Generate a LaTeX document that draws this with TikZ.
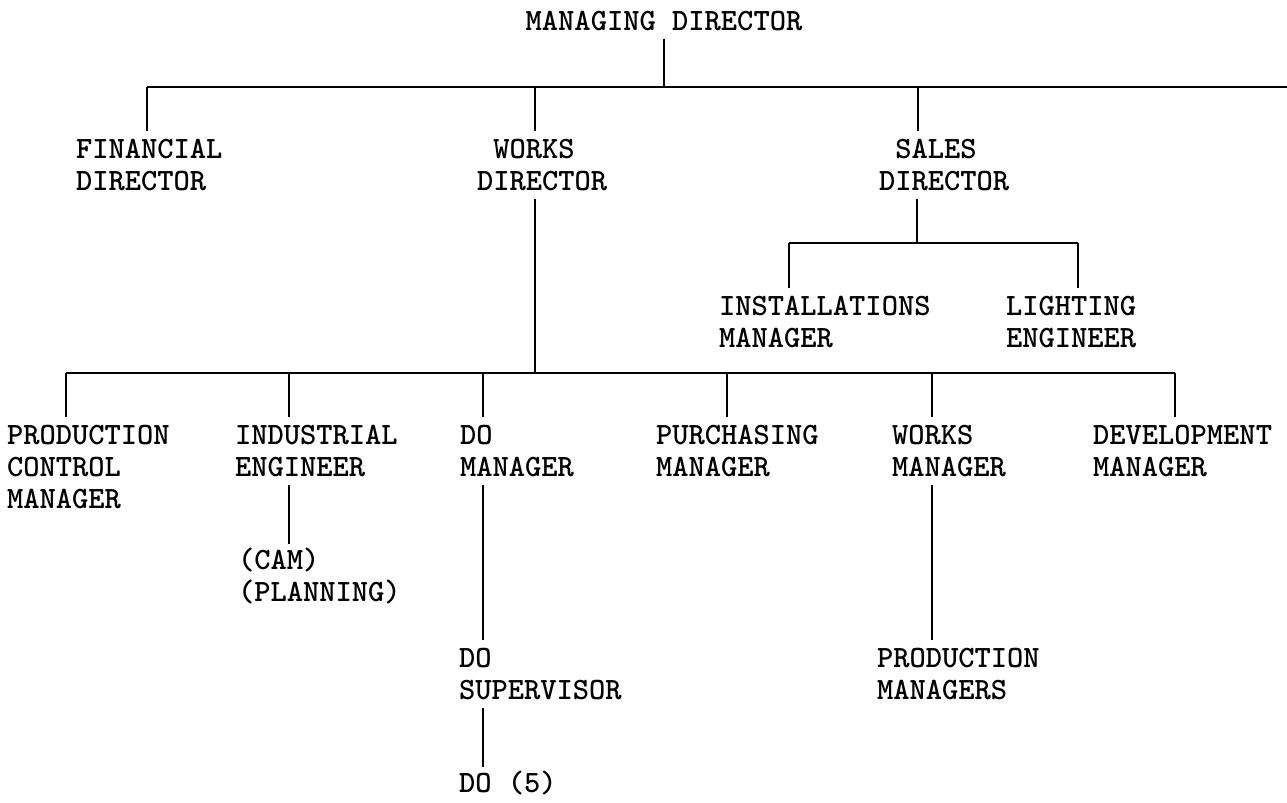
\documentclass[tikz,border=0pt]{standalone}
\begin{document}
\begin{tikzpicture}[x=0.5pt,y=-0.5pt,
  poste/.style={anchor=north west,inner sep=0pt,outer xsep=0pt,outer ysep=4pt,align=left,
    font=\ttfamily\bfseries\fontsize{15.5}{16}\selectfont},
  trait/.style={line width=1pt}]
  \useasboundingbox (0,0) rectangle (1287,803);
  % Intitulés des postes
  \node[poste,anchor=north] (md) at (664,3) {MANAGING DIRECTOR};
  \node[poste] (fin) at (76,131) {FINANCIAL\\DIRECTOR};
  \node[poste] (works) at (477,131) {\hphantom{W}WORKS\\DIRECTOR};
  \node[poste] (sales) at (879,131) {\hphantom{S}SALES\\DIRECTOR};
  \node[poste] (inst) at (719,288) {INSTALLATIONS\\MANAGER};
  \node[poste] (light) at (1006,288) {LIGHTING\\ENGINEER};
  \node[poste] (prod) at (7,417) {PRODUCTION\\CONTROL\\MANAGER};
  \node[poste] (ind) at (235,417) {INDUSTRIAL\\ENGINEER};
  \node[poste] (dom) at (460,417) {DO\\MANAGER};
  \node[poste] (pur) at (656,417) {PURCHASING\\MANAGER};
  \node[poste] (wm) at (892,417) {WORKS\\MANAGER};
  \node[poste] (dev) at (1093,417) {DEVELOPMENT\\MANAGER};
  \node[poste,outer ysep=2pt] (cam) at (238,544) {(CAM)\\(PLANNING)};
  \node[poste] (dos) at (459,640) {DO\\SUPERVISOR};
  \node[poste,outer ysep=2pt] (do5) at (459,767) {DO (5)};
  \node[poste] (pm) at (877,640) {PRODUCTION\\MANAGERS};
  % Barres horizontales
  \coordinate (busA) at (147,87);
  \coordinate (busAend) at (1287,87);
  \coordinate (busB) at (789,243);
  \coordinate (busBend) at (1078,243);
  \coordinate (busC) at (66,373);
  \coordinate (busCend) at (1175,373);
  \draw[trait] (busA) -- (busAend);
  \draw[trait] (busB) -- (busBend);
  \draw[trait] (busC) -- (busCend);
  % Rattachements verticaux
  \draw[trait] (md.south) -- (md.south |- busA);
  \foreach \n/\x in {fin/147,works/535,sales/918}
    \draw[trait] (\x,87) -- (\x,87 |- \n.north);
  \draw[trait] (works.south -| 535,0) -- (535,0 |- busC);
  \draw[trait] (sales.south -| 917,0) -- (917,0 |- busB);
  \foreach \n/\x in {inst/789,light/1078}
    \draw[trait] (\x,243) -- (\x,243 |- \n.north);
  \foreach \n/\x in {prod/66,ind/289,dom/483,pur/727,wm/932,dev/1175}
    \draw[trait] (\x,373) -- (\x,373 |- \n.north);
  \draw[trait] (ind.south -| 289,0) -- (289,0 |- cam.north);
  \draw[trait] (dom.south -| 483,0) -- (483,0 |- dos.north);
  \draw[trait] (dos.south -| 483,0) -- (483,0 |- do5.north);
  \draw[trait] (wm.south -| 932,0) -- (932,0 |- pm.north);
\end{tikzpicture}
\end{document}
